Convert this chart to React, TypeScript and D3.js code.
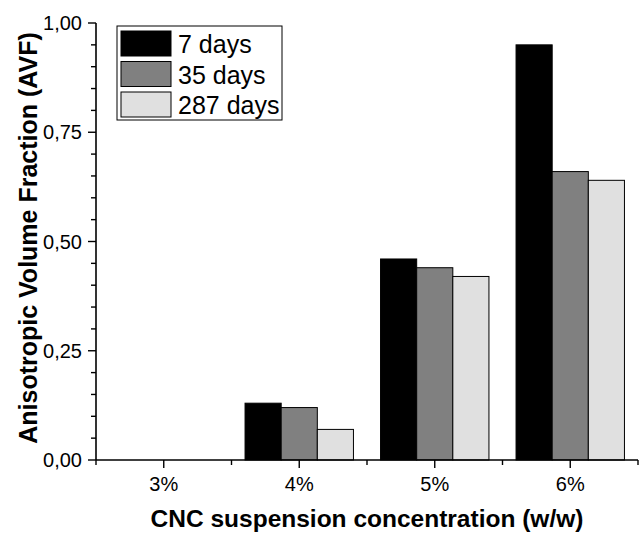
import React from "react";
import * as d3 from "d3";

const categories = ["3%", "4%", "5%", "6%"];
const categoryPositions = [3, 4, 5, 6];
const seriesNames = ["7 days", "35 days", "287 days"];
const series7 = [0, 0.13, 0.46, 0.95];
const series35 = [0, 0.12, 0.44, 0.66];
const series287 = [0, 0.07, 0.42, 0.64];
const seriesColors = ["#000000", "#808080", "#e0e0e0"];
const yMajorTicks = [0, 0.25, 0.5, 0.75, 1.0];
const xMinorTicks = [2.5, 3.5, 4.5, 5.5, 6.5];

const W = 639;
const H = 535;
const left = 96;
const right = 638;
const top = 23;
const bottom = 460;
const FONT = "'Liberation Sans', Arial, Helvetica, sans-serif";

export default function App() {
  const x = d3.scaleLinear().domain([2.5, 6.5]).range([left, right]);
  const y = d3.scaleLinear().domain([0, 1]).range([bottom, top]);
  const allSeries = [series7, series35, series287];
  const groupW = 0.8;
  const barW = groupW / 3;
  const yMinor = d3.range(0, 1.0001, 0.05).filter((v) => !yMajorTicks.some((m) => Math.abs(m - v) < 1e-6));
  const fmt = (v: number) => v.toFixed(2).replace(".", ",");

  return (
    <svg width={W} height={H} style={{ position: "absolute", left: 0, top: 0, background: "#fff" }} fontFamily={FONT}>
      <rect x={0} y={0} width={W} height={H} fill="#fff" />
      {allSeries.map((s, si) =>
        s.map((v, ci) => {
          const x0 = x(categoryPositions[ci] - groupW / 2 + si * barW);
          const x1 = x(categoryPositions[ci] - groupW / 2 + (si + 1) * barW);
          return (
            <rect
              key={`${si}-${ci}`}
              x={x0}
              y={y(v)}
              width={x1 - x0}
              height={y(0) - y(v)}
              fill={seriesColors[si]}
              stroke="#000"
              strokeWidth={1}
            />
          );
        })
      )}
      {/* axes */}
      <line x1={left} x2={right} y1={bottom} y2={bottom} stroke="#000" strokeWidth={1.6} />
      <line x1={left} x2={left} y1={top} y2={bottom} stroke="#000" strokeWidth={1.6} />
      {categoryPositions.map((p, i) => (
        <g key={`xt${i}`}>
          <line x1={x(p)} x2={x(p)} y1={bottom} y2={bottom + 8} stroke="#000" strokeWidth={1.4} />
          <text x={x(p)} y={491} textAnchor="middle" fontSize={20} fill="#000">
            {categories[i]}
          </text>
        </g>
      ))}
      {xMinorTicks.map((p, i) => (
        <line key={`xm${i}`} x1={x(p)} x2={x(p)} y1={bottom} y2={bottom + 5} stroke="#000" strokeWidth={1.4} />
      ))}
      {yMajorTicks.map((v, i) => (
        <g key={`yt${i}`}>
          <line x1={left - 8} x2={left} y1={y(v)} y2={y(v)} stroke="#000" strokeWidth={1.4} />
          <text x={left - 14} y={y(v) + 7} textAnchor="end" fontSize={20} fill="#000">
            {fmt(v)}
          </text>
        </g>
      ))}
      {yMinor.map((v, i) => (
        <line key={`ym${i}`} x1={left - 5} x2={left} y1={y(v)} y2={y(v)} stroke="#000" strokeWidth={1.4} />
      ))}
      {/* axis titles */}
      <text x={367} y={527} textAnchor="middle" fontSize={24.5} fontWeight="bold" fill="#000">
        CNC suspension concentration (w/w)
      </text>
      <text
        transform={`translate(37, 238) rotate(-90)`}
        textAnchor="middle"
        fontSize={25}
        fontWeight="bold"
        fill="#000"
      >
        Anisotropic Volume Fraction (AVF)
      </text>
      {/* legend */}
      <rect x={117} y={26} width={165} height={94} fill="#fff" stroke="#000" strokeWidth={1} />
      {seriesNames.map((n, i) => (
        <g key={`lg${i}`}>
          <rect x={121} y={31 + i * 30.5} width={50} height={25} fill={seriesColors[i]} stroke="#000" strokeWidth={1} />
          <text x={178} y={53 + i * 30.5} fontSize={25} fill="#000">
            {n}
          </text>
        </g>
      ))}
    </svg>
  );
}
